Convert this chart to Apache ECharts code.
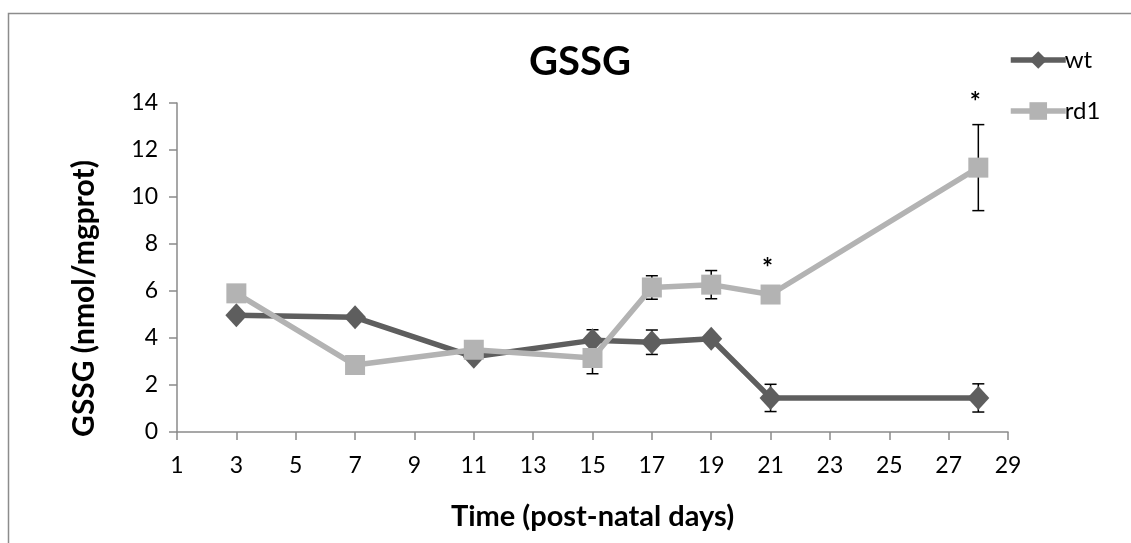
<!DOCTYPE html>
<html>
<head>
<meta charset="utf-8">
<script src="https://cdn.jsdelivr.net/npm/echarts@6/dist/echarts.min.js"></script>
<style>
  html, body { margin: 0; padding: 0; background: #fff; }
  #chart { width: 1131px; height: 543px; }
</style>
</head>
<body>
<div id="chart"></div>
<script>
// data
var days = [3, 7, 11, 15, 17, 19, 21, 28];
var wt = [4.97, 4.88, 3.2, 3.9, 3.82, 3.97, 1.45, 1.45];
var wtErr = [0.08, 0.08, 0.08, 0.45, 0.52, 0.08, 0.58, 0.6];
var rd1 = [5.9, 2.85, 3.5, 3.15, 6.15, 6.27, 5.85, 11.25];
var rd1Err = [0.08, 0.08, 0.08, 0.67, 0.5, 0.6, 0.15, 1.83];
var rd1Stars = [21, 28]; // rd1 points marked significant
var xTicks = [1, 29, 2]; // min, max, interval
var yTicks = [0, 14, 2];

var font = 'Lato, "Open Sans", sans-serif';
var wtColor = '#5e5e5e';
var rd1Color = '#b3b3b3';

var chart = echarts.init(document.getElementById('chart'));

function pairs(vals) {
    return days.map(function (d, i) { return [d, vals[i]]; });
}

function errData(vals, errs, stars) {
    return days.map(function (d, i) {
        return [d, vals[i] - errs[i], vals[i] + errs[i], stars.indexOf(d) >= 0 ? 1 : 0];
    });
}

function renderErr(params, api) {
    var x = api.value(0);
    var lo = api.coord([x, api.value(1)]);
    var hi = api.coord([x, api.value(2)]);
    var w = 6;
    var style = { stroke: '#000', lineWidth: 1.5 };
    var kids = [
        { type: 'line', shape: { x1: hi[0], y1: hi[1], x2: lo[0], y2: lo[1] }, style: style },
        { type: 'line', shape: { x1: hi[0] - w, y1: hi[1], x2: hi[0] + w, y2: hi[1] }, style: style },
        { type: 'line', shape: { x1: lo[0] - w, y1: lo[1], x2: lo[0] + w, y2: lo[1] }, style: style }
    ];
    if (api.value(3)) {
        kids.push({
            type: 'text',
            style: { text: '*', x: hi[0] - 3, y: hi[1] - 22, align: 'center', verticalAlign: 'middle',
                     font: 'bold 26px ' + font, fill: '#000' }
        });
    }
    return { type: 'group', children: kids };
}

var option = {
    animation: false,
    backgroundColor: '#fff',
    title: {
        text: 'GSSG',
        left: 575,
        top: 37,
        textAlign: 'center',
        textStyle: { fontFamily: font, fontWeight: 'bold', fontSize: 40, color: '#000' }
    },
    legend: {
        orient: 'vertical',
        left: 1003,
        top: 43,
        itemGap: 27,
        itemWidth: 55,
        itemHeight: 22,
        lineStyle: { width: 5.5 },
        textStyle: { fontFamily: font, fontSize: 24, color: '#000', padding: [0, 0, 0, -6] },
        data: ['wt', 'rd1']
    },
    grid: { left: 177, right: 123, top: 103, bottom: 111 },
    xAxis: {
        type: 'value',
        min: xTicks[0],
        max: xTicks[1],
        interval: xTicks[2],
        name: 'Time (post-natal days)',
        nameLocation: 'middle',
        nameGap: 70,
        nameTextStyle: { fontFamily: font, fontWeight: 'bold', fontSize: 29, color: '#000' },
        axisLine: { lineStyle: { color: '#8a8a8a', width: 1.5 } },
        axisTick: { show: true, length: 8, lineStyle: { color: '#8a8a8a', width: 1.5 } },
        axisLabel: { fontFamily: font, fontSize: 23, color: '#000', margin: 22 },
        splitLine: { show: false }
    },
    yAxis: {
        type: 'value',
        min: yTicks[0],
        max: yTicks[1],
        interval: yTicks[2],
        name: 'GSSG (nmol/mgprot)',
        nameLocation: 'middle',
        nameGap: 78,
        nameTextStyle: { fontFamily: font, fontWeight: 'bold', fontSize: 30, color: '#000', padding: [0, 62, 0, 0] },
        axisLine: { show: true, lineStyle: { color: '#8a8a8a', width: 1.5 } },
        axisTick: { show: true, length: 8, lineStyle: { color: '#8a8a8a', width: 1.5 } },
        axisLabel: { fontFamily: font, fontSize: 23, color: '#000', margin: 19 },
        splitLine: { show: false }
    },
    graphic: [{
        type: 'rect',
        shape: { x: 8.5, y: 13.5, width: 1200, height: 600 },
        style: { fill: 'none', stroke: '#8c8c8c', lineWidth: 1.5 },
        silent: true
    }],
    series: [
        {
            name: 'wtErr',
            type: 'custom',
            renderItem: renderErr,
            data: errData(wt, wtErr, []),
            z: 1
        },
        {
            name: 'rd1Err',
            type: 'custom',
            renderItem: renderErr,
            data: errData(rd1, rd1Err, rd1Stars),
            z: 1
        },
        {
            name: 'wt',
            type: 'line',
            data: pairs(wt),
            symbol: 'diamond',
            symbolSize: [22, 24],
            color: wtColor,
            lineStyle: { color: wtColor, width: 5.5 },
            itemStyle: { color: wtColor },
            z: 3
        },
        {
            name: 'rd1',
            type: 'line',
            data: pairs(rd1),
            symbol: 'rect',
            symbolSize: 20,
            color: rd1Color,
            lineStyle: { color: rd1Color, width: 5.5 },
            itemStyle: { color: rd1Color },
            z: 4
        }
    ]
};

chart.setOption(option);
</script>
</body>
</html>
